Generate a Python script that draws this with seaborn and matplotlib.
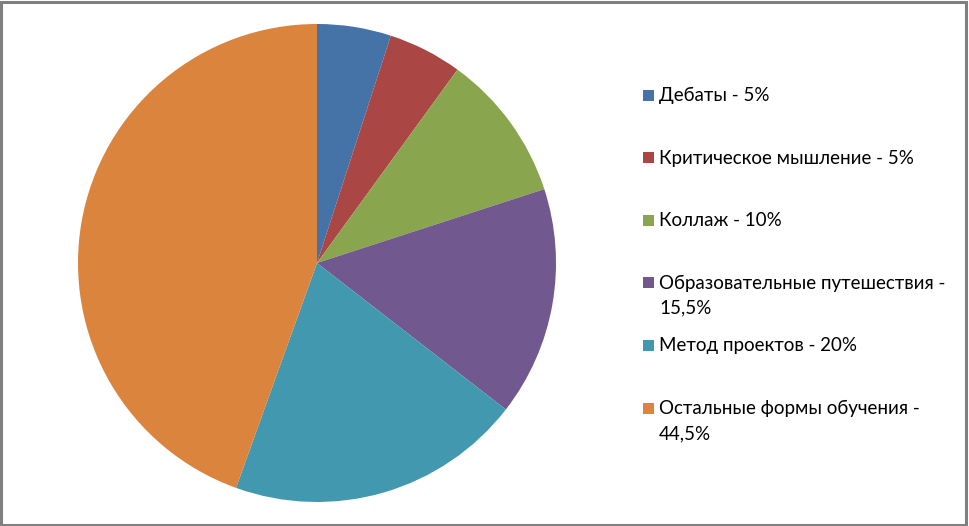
import matplotlib
matplotlib.use("Agg")
import matplotlib.pyplot as plt
from matplotlib.patches import Rectangle
import seaborn as sns

labels = ["Дебаты - 5%", "Критическое мышление - 5%", "Коллаж - 10%",
          "Образовательные путешествия -\n15,5%", "Метод проектов - 20%",
          "Остальные формы обучения -\n44,5%"]
values = [5, 5, 10, 15.5, 20, 44.5]
colors = ["#4572A7", "#AA4643", "#89A54E", "#71588F", "#4198AF", "#DB843D"]

sns.set_theme(style="white")
plt.rcParams['font.family'] = ['Lato', 'DejaVu Sans']
palette = sns.color_palette(colors)

W, H = 969, 526
fig = plt.figure(figsize=(W / 100, H / 100), dpi=100)
fig.patch.set_facecolor("white")

cx, cy, r = 317, 263, 239
ax = fig.add_axes([(cx - r) / W, (H - cy - r) / H, 2 * r / W, 2 * r / H])
wedges, _ = ax.pie(values, colors=palette, startangle=90, counterclock=False,
                   wedgeprops=dict(linewidth=0))
ax.set_xlim(-1, 1)
ax.set_ylim(-1, 1)
ax.set_aspect("equal")
ax.axis("off")

# legend (manual layout to mimic Excel spacing)
base0, step, sq, lh = 101, 62.6, 11, 25
for i, (lab, col) in enumerate(zip(labels, palette)):
    yb = base0 + i * step
    fig.patches.append(Rectangle((643 / W, 1 - (yb - 0.5) / H), sq / W, sq / H,
                                 transform=fig.transFigure, facecolor=col,
                                 edgecolor="none"))
    for j, line in enumerate(lab.split("\n")):
        fig.text(659 / W, 1 - (yb + j * lh) / H, line, fontsize=13.5,
                 color="#000000", va="baseline", ha="left")

# outer frame
fig.patches.append(Rectangle((0.001, 0.002), 0.996, 0.994, transform=fig.transFigure,
                             facecolor="none", edgecolor="#808080", linewidth=2.2))

fig.savefig("out.png", dpi=100)
